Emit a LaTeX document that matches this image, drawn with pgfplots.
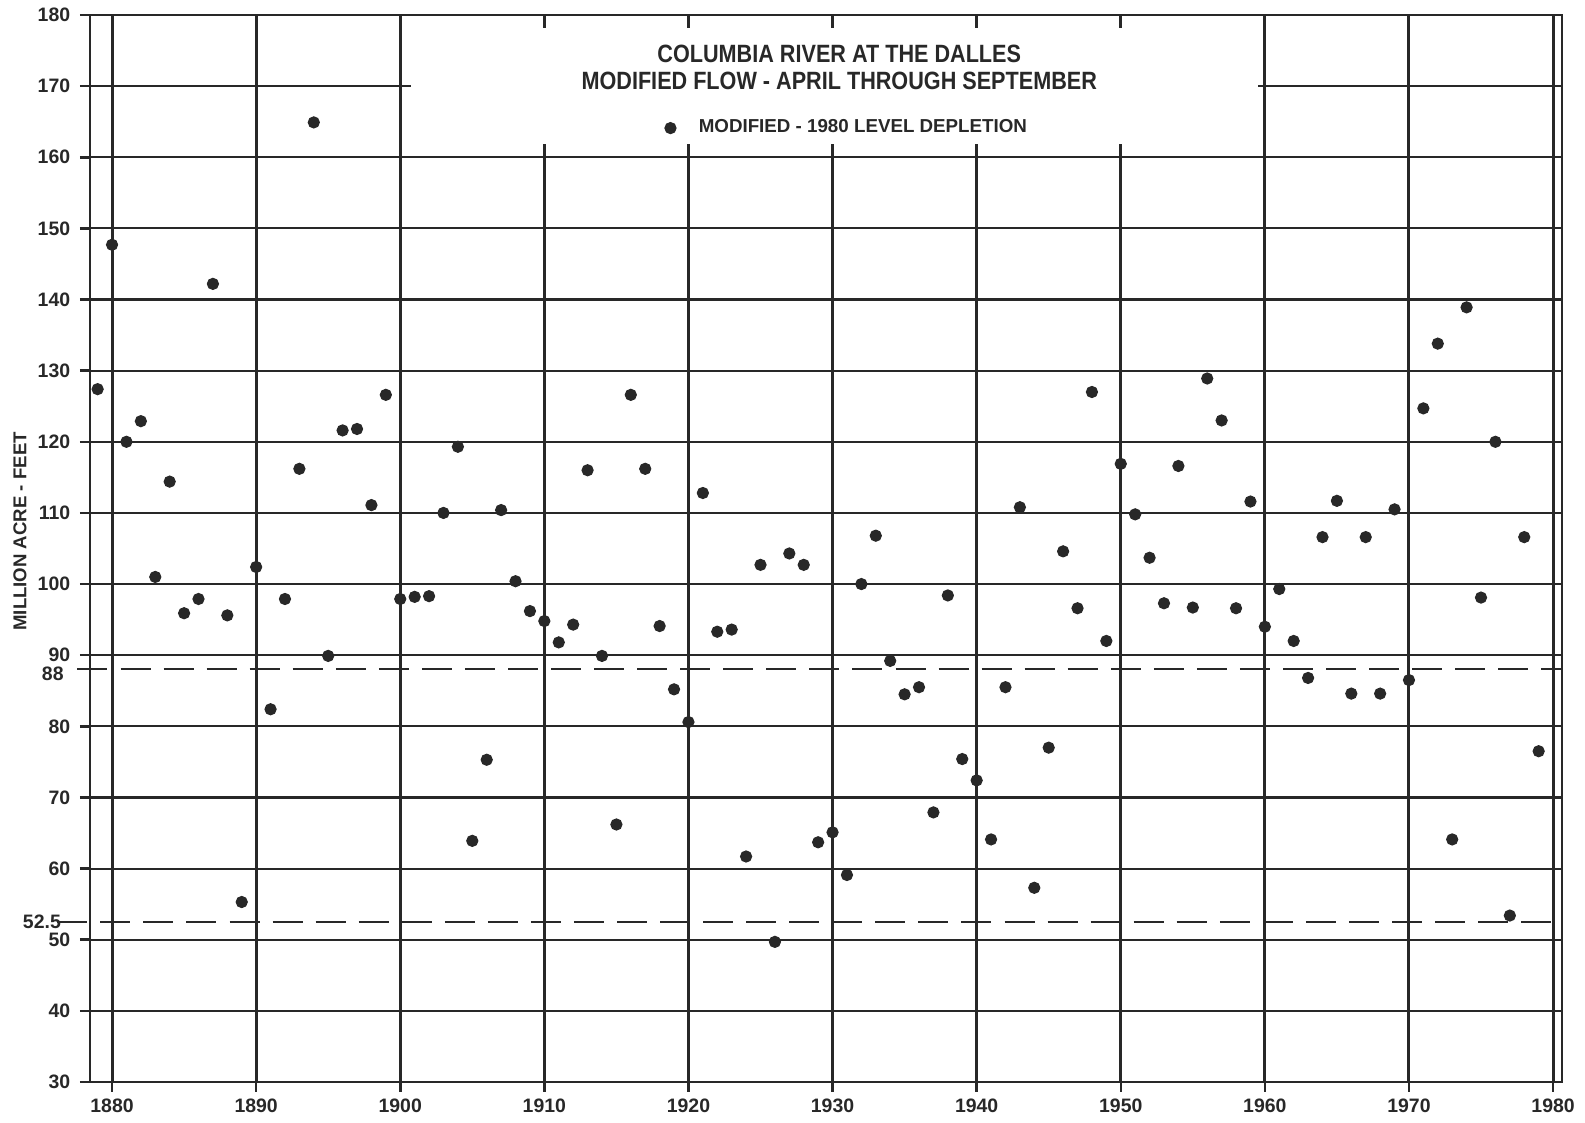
\documentclass[border=0pt]{standalone}
\usepackage{pgfplots}
\pgfplotsset{compat=1.18}
\usepackage{pgfplotstable}
\usepackage{fontspec}
\setmainfont{Liberation Sans}
\newfontfamily\titlefont{Liberation Sans}[FakeStretch=0.865]
\definecolor{ink}{RGB}{40,40,40}
\pgfplotstableread{
year flow
1879 127.4
1880 147.7
1881 120.0
1882 122.9
1883 101.0
1884 114.4
1885 95.9
1886 97.9
1887 142.2
1888 95.6
1889 55.3
1890 102.4
1891 82.4
1892 97.9
1893 116.2
1894 164.9
1895 89.9
1896 121.6
1897 121.8
1898 111.1
1899 126.6
1900 97.9
1901 98.2
1902 98.3
1903 110.0
1904 119.3
1905 63.9
1906 75.3
1907 110.4
1908 100.4
1909 96.2
1910 94.8
1911 91.8
1912 94.3
1913 116.0
1914 89.9
1915 66.2
1916 126.6
1917 116.2
1918 94.1
1919 85.2
1920 80.6
1921 112.8
1922 93.3
1923 93.6
1924 61.7
1925 102.7
1926 49.7
1927 104.3
1928 102.7
1929 63.7
1930 65.1
1931 59.1
1932 100.0
1933 106.8
1934 89.2
1935 84.5
1936 85.5
1937 67.9
1938 98.4
1939 75.4
1940 72.4
1941 64.1
1942 85.5
1943 110.8
1944 57.3
1945 77.0
1946 104.6
1947 96.6
1948 127.0
1949 92.0
1950 116.9
1951 109.8
1952 103.7
1953 97.3
1954 116.6
1955 96.7
1956 128.9
1957 123.0
1958 96.6
1959 111.6
1960 94.0
1961 99.3
1962 92.0
1963 86.8
1964 106.6
1965 111.7
1966 84.6
1967 106.6
1968 84.6
1969 110.5
1970 86.5
1971 124.7
1972 133.8
1973 64.1
1974 138.9
1975 98.1
1976 120.0
1977 53.4
1978 106.6
1979 76.5
}\flowdata

\begin{document}
\begin{tikzpicture}
\useasboundingbox (-32.4pt,-14.76pt) rectangle (538.2pt,389.52pt);
\begin{axis}[
  at={(0pt,0pt)}, anchor=south west,
  scale only axis, width=529.92pt, height=384.12pt,
  xmin=1878.47, xmax=1980.62, ymin=30, ymax=180,
  xtick={1880,1890,...,1980}, ytick={30,40,...,180},
  grid=major,
  x grid style={ink, line width=1.1pt},
  y grid style={ink, line width=0.75pt},
  axis line style={ink, line width=1pt},
  tick align=outside, major tick length=3.6pt,
  tick style={ink, line width=0.9pt},
  tick pos=left,
  extra y ticks={88,52.5},
  extra y tick labels={\raisebox{-4pt}[0pt][0pt]{88}\hspace*{2pt},52.5\hspace*{3pt}},
  extra y tick style={grid=none, major tick length=0pt,
    yticklabel style={inner sep=0pt, xshift=-7.3pt}},
  ticklabel style={font=\bfseries\fontsize{7}{8}\selectfont, text=ink, inner ysep=0.5pt},
  xticklabel style={yshift=-1.8pt},
  /pgf/number format/assume math mode=true,
  /pgf/number format/1000 sep={},
  ylabel={MILLION ACRE - FEET},
  ylabel style={at={(axis description cs:-0.0476,0.516)}, anchor=center,
    font=\bfseries\fontsize{6.7}{8}\selectfont, text=ink},
  clip=false,
  legend image code/.code={\draw[#1] plot coordinates {(0pt,0pt)}; \path (0pt,0pt) (8pt,0pt);},
  legend style={at={(axis description cs:0.3902,0.894)}, anchor=west, inner sep=0pt,
    draw=none, fill=none, font=\bfseries\fontsize{6.75}{8}\selectfont, text=ink},
  legend cell align=left,
]
\fill[white] (axis cs:1900.75,161.2) rectangle (axis cs:1959.5,179.7);
\pgfplotsinvokeforeach{1910,1920,1930,1940,1950}{
  \draw[ink, line width=1.1pt] (axis cs:#1,180) -- (axis cs:#1,178.2);
  \draw[ink, line width=1.1pt] (axis cs:#1,160) -- (axis cs:#1,161.8);
}
\addplot[forget plot, ink, line width=0.75pt, dash pattern=on 10.8pt off 4.7pt]
  coordinates {(1877.6,88) (1980.62,88)};
\addplot[forget plot, ink, line width=0.75pt, dash pattern=on 10.8pt off 4.7pt]
  coordinates {(1876.2,52.5) (1980.62,52.5)};
\addplot[only marks, mark=*, mark size=2pt, color=ink, mark options={fill=ink, draw=ink}]
  table[x=year, y=flow]{\flowdata};
\addlegendentry{MODIFIED - 1980 LEVEL DEPLETION}
\node[font=\titlefont\bfseries\fontsize{9}{9.7}\selectfont, text=ink, align=center]
  at (axis description cs:0.509,0.951)
  {COLUMBIA RIVER AT THE DALLES\\MODIFIED FLOW - APRIL THROUGH SEPTEMBER};
\end{axis}
\end{tikzpicture}
\end{document}
